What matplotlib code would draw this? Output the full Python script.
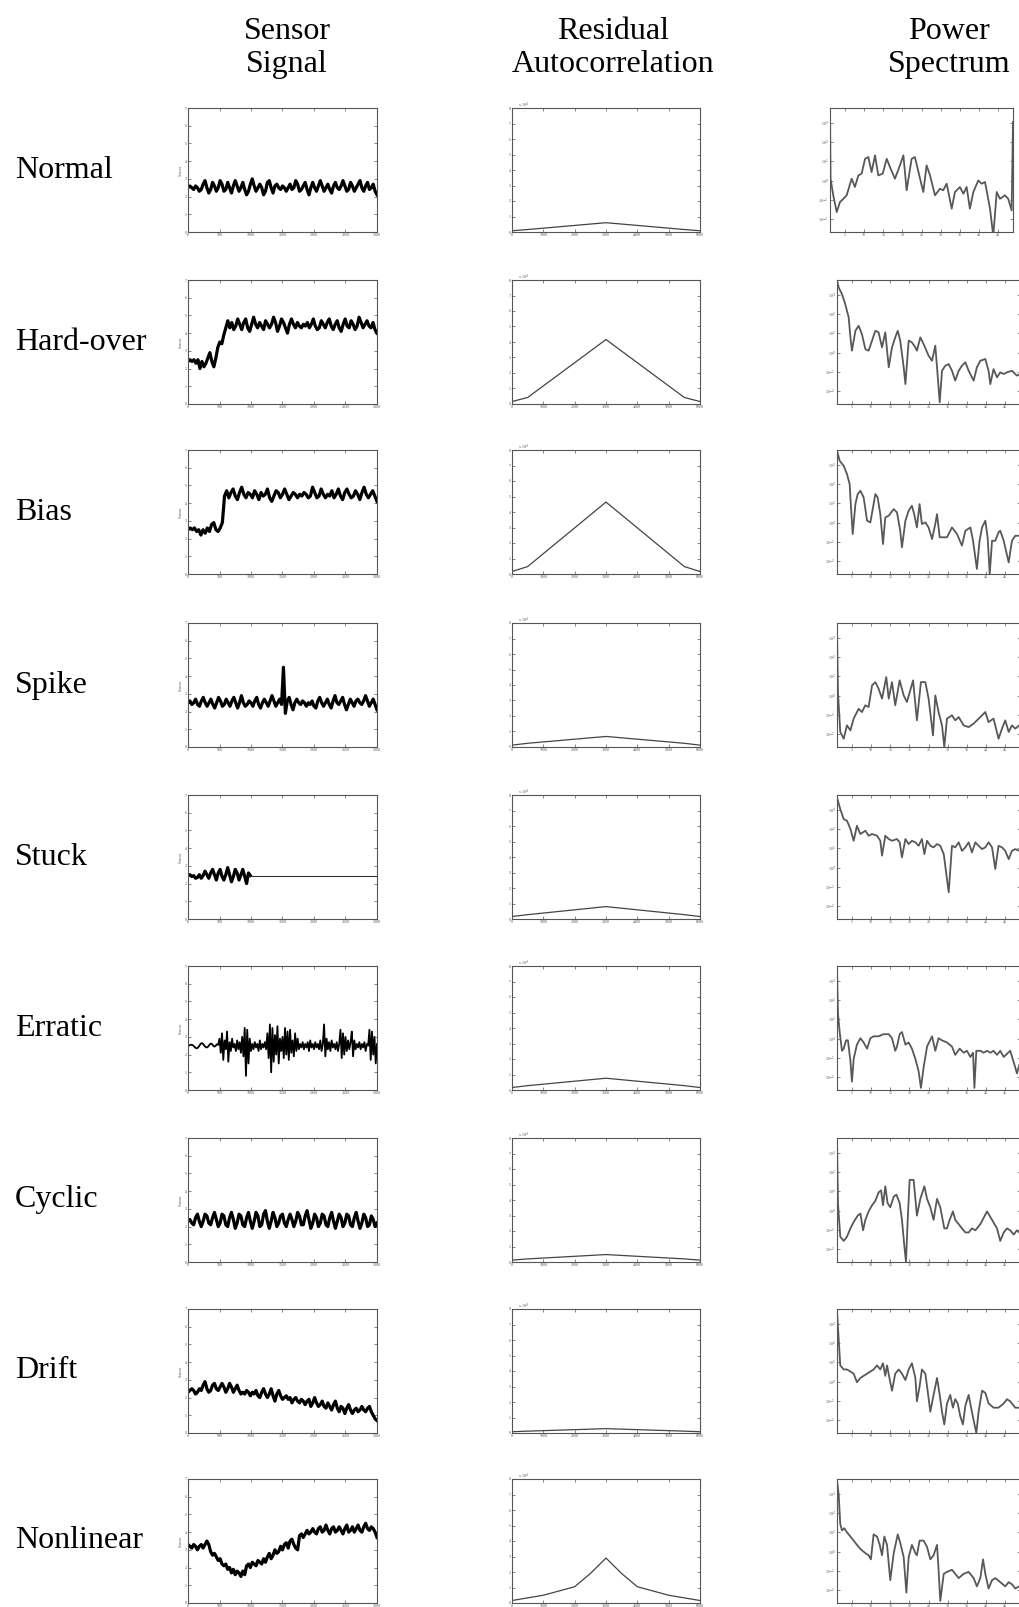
import numpy as np
import matplotlib
matplotlib.use('Agg')
import matplotlib.pyplot as plt

plt.rcParams['font.family'] = ['Liberation Serif', 'DejaVu Serif']

faults = ['Normal', 'Hard-over', 'Bias', 'Spike', 'Stuck', 'Erratic', 'Cyclic', 'Drift', 'Nonlinear']
headers = ['Sensor\nSignal', 'Residual\nAutocorrelation', 'Power\nSpectrum']

# ---- sensor signals, samples 0..3000 (evenly spaced) ----
sig_normal = [2.5, 2.6, 2.5, 2.4, 2.6, 2.5, 2.3, 2.4, 2.7, 2.9, 2.5, 2.2, 2.4, 2.8, 2.6, 2.3, 2.5, 2.9, 2.7, 2.3,
              2.4, 2.8, 2.5, 2.2, 2.6, 2.9, 2.6, 2.3, 2.5, 2.8, 2.4, 2.1, 2.3, 2.7, 3.0, 2.6, 2.3, 2.5, 2.7, 2.5,
              2.1, 2.3, 2.8, 2.9, 2.5, 2.2, 2.6, 2.7, 2.5, 2.4, 2.6, 2.5, 2.3, 2.5, 2.7, 2.4, 2.5, 2.9, 2.7, 2.3,
              2.4, 2.6, 2.8, 2.4, 2.1, 2.5, 2.8, 2.5, 2.3, 2.6, 2.9, 2.6, 2.3, 2.5, 2.7, 2.4, 2.2, 2.6, 2.8, 2.5,
              2.4, 2.6, 2.9, 2.6, 2.3, 2.4, 2.8, 2.6, 2.3, 2.5, 2.7, 2.9, 2.5, 2.3, 2.6, 2.8, 2.4, 2.5, 2.7, 2.3, 2.1]
sig_hardover = [2.4, 2.5, 2.4, 2.5, 2.3, 2.5, 2.0, 2.4, 2.1, 2.3, 2.6, 2.9, 2.4, 2.1,
                2.6, 3.2, 3.5, 3.4, 3.9, 4.3, 4.7,
                4.3, 4.6, 4.2, 4.4, 4.8, 4.5, 4.2, 4.6, 4.8, 4.3, 4.1, 4.5, 4.9, 4.5, 4.3, 4.6, 4.4, 4.2, 4.7, 4.5,
                4.3, 4.5, 4.9, 4.6, 4.1, 4.4, 4.8, 4.6, 4.3, 4.0, 4.5, 4.8, 4.5, 4.3, 4.6, 4.4, 4.3, 4.5, 4.4, 4.6,
                4.3, 4.5, 4.8, 4.4, 4.2, 4.3, 4.7, 4.5, 4.3, 4.6, 4.8, 4.4, 4.2, 4.5, 4.7, 4.3, 4.1, 4.5, 4.8, 4.4,
                4.3, 4.7, 4.5, 4.2, 4.4, 4.9, 4.6, 4.3, 4.5, 4.7, 4.4, 4.3, 4.6, 4.2, 4.0]
sig_bias = [2.5, 2.6, 2.5, 2.6, 2.4, 2.5, 2.2, 2.5, 2.3, 2.6, 2.4, 2.8, 2.9, 2.5, 2.4, 2.6, 2.9,
            4.4, 4.7, 4.3, 4.6, 4.8, 4.4, 4.2, 4.6, 4.9, 4.5, 4.3, 4.6, 4.5, 4.3, 4.7, 4.5, 4.2, 4.6, 4.4,
            4.5, 4.8, 4.3, 4.1, 4.4, 4.7, 4.6, 4.3, 4.5, 4.8, 4.5, 4.2, 4.4, 4.6, 4.5, 4.3, 4.5, 4.4, 4.6,
            4.5, 4.3, 4.4, 4.9, 4.6, 4.3, 4.4, 4.8, 4.5, 4.3, 4.5, 4.4, 4.7, 4.3, 4.5, 4.8, 4.4, 4.2, 4.6,
            4.8, 4.5, 4.3, 4.4, 4.7, 4.5, 4.2, 4.6, 4.9, 4.5, 4.3, 4.5, 4.7, 4.4, 4.1]
sig_spike = [2.5, 2.6, 2.4, 2.5, 2.7, 2.4, 2.3, 2.6, 2.8, 2.5, 2.3, 2.5, 2.7, 2.4, 2.2, 2.5, 2.8, 2.6, 2.3, 2.4,
             2.7, 2.5, 2.3, 2.6, 2.8, 2.5, 2.2, 2.5, 2.9, 2.5, 2.3, 2.4, 2.6, 2.5, 2.3, 2.6, 2.8, 2.4, 2.2, 2.5,
             2.7, 2.5, 2.3, 2.6, 2.9, 2.6, 2.3, 2.5, 2.7, 2.4, 4.5, 1.9, 2.6, 2.8, 2.4, 2.1, 2.5, 2.7, 2.5, 2.4,
             2.6, 2.5, 2.3, 2.5, 2.4, 2.6, 2.3, 2.2, 2.6, 2.8, 2.5, 2.3, 2.5, 2.7, 2.4, 2.2, 2.6, 2.9, 2.5, 2.4,
             2.6, 2.8, 2.4, 2.1, 2.4, 2.7, 2.5, 2.3, 2.6, 2.7, 2.5, 2.4, 2.6, 2.9, 2.6, 2.3, 2.5, 2.7, 2.4, 2.1]
sig_stuck = [2.45, 2.5, 2.4, 2.45, 2.3, 2.35, 2.5, 2.3, 2.45, 2.7, 2.5, 2.3, 2.6, 2.8, 2.5, 2.2, 2.6,
             2.8, 2.4, 2.2, 2.5, 2.9, 2.5, 2.1, 2.4, 2.8, 2.6, 2.2, 2.5, 2.8, 2.4, 2.0, 2.6, 2.45]
stuck_from = 990
sig_erratic = [2.5, 2.52, 2.55, 2.55, 2.52, 2.45, 2.38, 2.35, 2.4, 2.5, 2.6, 2.65, 2.6, 2.5, 2.42, 2.4,
               2.45, 2.55, 2.62, 2.6, 2.5, 2.45, 2.5, 2.58, 2.55,
               2.9, 2.1, 3.2, 1.7, 2.8, 2.3, 3.3, 1.6, 2.7, 2.2, 2.9,
               2.4, 2.6, 2.2, 2.8, 2.3, 2.7, 2.1, 3.0,
               1.9, 3.5, 0.8, 3.4, 1.5, 2.9, 2.2,
               2.6, 2.3, 2.7, 2.4, 2.6, 2.2, 2.8, 2.3, 2.6, 2.4, 2.7, 2.3,
               3.2, 1.8, 3.7, 1.0, 3.5, 1.6, 3.1, 2.0, 3.6, 1.5, 2.9,
               2.2, 3.0, 1.8, 3.5, 2.0, 3.3, 1.7, 3.4, 2.1, 2.8, 1.9, 3.2, 2.2, 2.9, 2.3,
               2.6, 2.4, 2.7, 2.3, 2.6, 2.4, 2.7, 2.2, 2.8, 2.4, 2.6, 2.3, 2.7, 2.4, 2.6, 2.3, 2.8, 2.2, 2.6,
               3.7, 1.9, 2.9,
               2.3, 2.7, 2.2, 2.8, 2.4, 2.6, 2.3, 2.7, 2.2, 2.6,
               3.4, 1.8, 3.2, 2.0, 3.0, 2.2, 2.8,
               2.3, 2.7, 3.3, 1.9, 2.8, 2.3, 2.6, 2.4, 2.7, 2.3, 2.6, 2.4, 2.7, 2.2, 2.6, 2.5,
               3.4, 1.7, 3.3, 2.0, 3.0, 1.5, 2.6]
sig_cyclic = [2.3, 2.4, 2.2, 2.1, 2.5, 2.7, 2.3, 2.0, 2.3, 2.7, 2.6, 2.2, 2.1, 2.5, 2.8, 2.4, 2.0, 2.2, 2.7, 2.6,
              2.1, 2.0, 2.5, 2.8, 2.4, 1.9, 2.2, 2.7, 2.6, 2.1, 2.0, 2.5, 2.8, 2.3, 1.9, 2.3, 2.8, 2.6, 2.0, 2.1,
              2.7, 2.9, 2.3, 1.9, 2.3, 2.8, 2.5, 2.0, 2.2, 2.6, 2.7, 2.2, 2.0, 2.4, 2.7, 2.4, 2.0, 2.3, 2.8, 2.6,
              2.1, 2.1, 2.6, 2.9, 2.4, 1.9, 2.2, 2.7, 2.5, 2.0, 2.2, 2.7, 2.6, 2.1, 2.0, 2.5, 2.8, 2.3, 1.9, 2.3,
              2.7, 2.5, 2.0, 2.2, 2.7, 2.6, 2.1, 2.0, 2.5, 2.8, 2.3, 1.9, 2.2, 2.7, 2.5, 2.0, 2.1, 2.6, 2.4, 2.0, 2.2]
sig_drift = [2.3, 2.4, 2.5, 2.4, 2.2, 2.3, 2.5, 2.4, 2.7, 2.9, 2.5, 2.3, 2.4, 2.7, 2.8, 2.5, 2.4, 2.6, 2.8, 2.6,
             2.3, 2.5, 2.8, 2.6,
             2.3, 2.5, 2.7, 2.4, 2.2, 2.3, 2.2, 2.4, 2.3, 2.1, 2.3, 2.2, 2.4, 2.1, 2.0, 2.3, 2.5, 2.2, 2.0, 2.2,
             2.5, 2.1, 1.8, 2.2,
             2.4, 2.1, 1.9, 2.0, 2.1, 1.9, 2.0, 1.7, 1.9, 2.0, 1.8, 1.7, 1.9, 1.8, 1.6, 1.8, 1.9, 1.5, 1.7, 2.0,
             1.7, 1.5, 1.6, 1.8,
             1.5, 1.4, 1.7, 1.5, 1.3, 1.6, 1.8, 1.4, 1.2, 1.5, 1.4, 1.1, 1.4, 1.6, 1.3, 1.1, 1.3, 1.4, 1.2, 1.3,
             1.5, 1.3, 1.2, 1.4,
             1.5, 1.2, 1.0, 0.8, 0.7]
sig_nonlinear = [3.3, 3.2, 3.1, 3.3, 3.2, 3.0, 3.2, 3.3, 3.1, 3.3,
                 3.5, 3.3, 2.9, 2.7, 2.8, 2.6, 2.4, 2.5, 2.2, 2.1,
                 2.2, 1.9, 2.0, 1.7, 1.9, 1.6, 1.8, 1.7, 1.5, 1.8,
                 1.6, 2.1, 2.2, 2.0, 2.3, 2.2, 2.1, 2.4, 2.3, 2.2,
                 2.5, 2.3, 2.6, 2.8, 2.5, 2.7, 3.0, 2.8, 2.9, 3.2,
                 3.0, 3.3, 3.4, 3.1, 3.5, 3.6, 3.3, 3.1, 3.0, 3.8,
                 3.9, 3.7, 3.9, 4.1, 3.9, 4.0, 4.2, 4.0, 3.9, 4.2,
                 4.3, 4.0, 4.1, 4.4, 4.1, 3.9, 4.2, 4.3, 4.0, 4.1,
                 4.3, 4.1, 3.9, 4.2, 4.4, 4.0, 4.1, 4.3, 4.0, 4.2,
                 4.4, 4.1, 4.0, 4.3, 4.5, 4.2, 4.1, 4.3, 4.2, 4.0, 3.7]

# ---- residual autocorrelation, (lag, value) ----
acf_normal = [(0, 0.08), (500, 0.16), (3000, 0.6), (5500, 0.16), (6000, 0.08)]
acf_hardover = [(0, 0.16), (500, 0.42), (3000, 4.16), (5500, 0.42), (6000, 0.16)]
acf_bias = [(0, 0.16), (500, 0.48), (3000, 4.64), (5500, 0.48), (6000, 0.16)]
acf_spike = [(0, 0.12), (500, 0.24), (3000, 0.68), (5500, 0.24), (6000, 0.12)]
acf_stuck = [(0, 0.16), (500, 0.28), (3000, 0.8), (5500, 0.28), (6000, 0.16)]
acf_erratic = [(0, 0.16), (500, 0.28), (3000, 0.76), (5500, 0.28), (6000, 0.16)]
acf_cyclic = [(0, 0.12), (500, 0.2), (3000, 0.48), (5500, 0.2), (6000, 0.12)]
acf_drift = [(0, 0.08), (500, 0.12), (3000, 0.28), (5500, 0.12), (6000, 0.08)]
acf_nonlinear = [(0, 0.16), (1000, 0.5), (2000, 1.05), (2500, 1.9), (3000, 2.9), (3500, 1.9),
                 (4000, 1.05), (5000, 0.5), (6000, 0.16)]

# ---- power spectrum, (frequency, log10 power) ----
psd_normal = [(0.00, 6.29), (0.03, 2.76), (0.17, 1.90), (0.35, 1.03), (0.52, 1.55), (0.70, 1.72), (0.87, 1.90),
              (1.13, 2.76), (1.30, 2.33), (1.48, 2.93), (1.65, 3.02), (1.83, 3.79), (2.00, 3.88), (2.17, 3.10),
              (2.35, 3.97), (2.52, 2.93), (2.75, 3.02), (2.96, 3.79), (3.13, 3.36), (3.39, 2.76), (3.65, 3.45),
              (3.83, 3.97), (4.00, 2.16), (4.26, 3.79), (4.43, 3.88), (4.70, 2.76), (4.87, 2.07), (5.04, 3.45),
              (5.22, 2.93), (5.48, 1.90), (5.74, 2.24), (5.91, 2.16), (6.09, 2.50), (6.35, 1.21), (6.52, 2.07),
              (6.78, 2.33), (6.96, 1.98), (7.13, 2.33), (7.30, 1.21), (7.48, 2.07), (7.74, 2.67), (7.91, 2.50),
              (8.09, 2.59), (8.35, 1.21), (8.52, -0.2), (8.70, 2.07), (8.87, 1.72), (9.13, 1.90), (9.30, 1.72),
              (9.48, 1.12), (9.55, 5.69)]
psd_hardover = [(0.00, 6.38), (0.09, 6.03), (0.26, 5.69), (0.43, 5.17), (0.61, 4.48), (0.70, 3.45), (0.78, 2.76),
                (0.96, 3.79), (1.13, 4.05), (1.30, 3.62), (1.48, 2.84), (1.65, 2.76), (1.83, 3.28), (2.00, 3.79),
                (2.17, 3.71), (2.35, 2.93), (2.52, 3.71), (2.70, 1.90), (2.87, 2.93), (3.04, 3.45), (3.17, 3.79),
                (3.30, 3.28), (3.48, 1.90), (3.57, 1.03), (3.74, 3.28), (3.91, 3.19), (4.09, 2.93), (4.17, 2.76),
                (4.35, 3.45), (4.52, 3.10), (4.78, 2.50), (4.96, 2.24), (5.13, 3.02), (5.22, 1.90), (5.36, 0.09),
                (5.48, 1.72), (5.65, 1.98), (5.83, 2.07), (6.00, 1.72), (6.17, 1.21), (6.35, 1.72), (6.52, 1.98),
                (6.70, 2.16), (6.87, 1.72), (7.13, 1.21), (7.30, 1.90), (7.48, 2.24), (7.74, 2.33), (7.91, 1.72),
                (8.00, 1.03), (8.17, 1.81), (8.35, 1.38), (8.52, 1.64), (8.70, 1.55), (8.87, 1.64), (9.13, 1.72),
                (9.39, 1.47), (9.57, 1.55)]
psd_bias = [(0.00, 6.38), (0.14, 5.86), (0.35, 5.60), (0.52, 5.17), (0.66, 4.66), (0.73, 3.45), (0.82, 2.07),
            (0.96, 3.62), (1.08, 4.14), (1.22, 4.31), (1.39, 3.97), (1.57, 2.76), (1.74, 2.67), (1.88, 3.45),
            (2.00, 4.14), (2.12, 3.97), (2.26, 3.10), (2.40, 1.55), (2.52, 2.93), (2.70, 3.02), (2.96, 3.36),
            (3.13, 3.19), (3.30, 2.24), (3.39, 1.38), (3.57, 2.76), (3.74, 3.28), (3.91, 3.53), (4.03, 3.10),
            (4.17, 2.41), (4.31, 3.62), (4.43, 2.59), (4.61, 2.67), (4.78, 2.41), (4.96, 1.81), (5.13, 2.59),
            (5.22, 3.10), (5.36, 1.90), (5.48, 1.90), (5.74, 1.90), (6.00, 2.41), (6.26, 2.07), (6.52, 1.47),
            (6.70, 2.24), (6.96, 2.41), (7.10, 1.72), (7.30, 0.26), (7.44, 1.72), (7.57, 2.41), (7.74, 2.76),
            (7.86, 1.90), (7.97, 0.00), (8.09, 1.72), (8.26, 1.72), (8.43, 2.16), (8.52, 2.24), (8.70, 1.72),
            (8.96, 0.60), (9.13, 1.72), (9.30, 1.98), (9.51, 1.98)]
psd_spike = [(0.00, 6.12), (0.05, 2.84), (0.17, 0.78), (0.35, 0.43), (0.52, 1.12), (0.70, 0.86), (0.87, 1.47),
             (1.13, 1.98), (1.30, 1.81), (1.48, 2.16), (1.65, 2.07), (1.83, 3.19), (2.00, 3.36), (2.17, 3.02),
             (2.35, 2.50), (2.57, 3.62), (2.70, 2.50), (2.87, 3.36), (3.04, 2.16), (3.27, 3.45), (3.48, 2.67),
             (3.65, 2.33), (3.97, 3.45), (4.17, 1.38), (4.38, 3.36), (4.61, 3.36), (4.78, 2.50), (5.01, 0.60),
             (5.13, 2.67), (5.30, 1.81), (5.48, 1.12), (5.60, 0.00), (5.74, 1.47), (6.00, 1.64), (6.17, 1.38),
             (6.35, 1.55), (6.61, 1.12), (6.87, 1.03), (7.13, 1.21), (7.48, 1.55), (7.74, 1.81), (7.91, 1.29),
             (8.17, 1.47), (8.43, 0.43), (8.61, 0.95), (8.78, 1.38), (8.96, 0.78), (9.13, 1.12), (9.30, 0.95),
             (9.51, 1.12)]
psd_stuck = [(0.00, 6.29), (0.17, 5.69), (0.35, 5.17), (0.52, 5.09), (0.70, 4.66), (0.87, 4.05), (1.04, 4.83),
             (1.22, 4.40), (1.48, 4.57), (1.65, 4.31), (1.83, 4.40), (2.09, 4.31), (2.26, 4.05), (2.35, 3.28),
             (2.52, 4.31), (2.70, 4.14), (2.87, 4.05), (3.13, 4.14), (3.27, 3.97), (3.39, 3.19), (3.57, 4.14),
             (3.74, 3.88), (3.91, 4.05), (4.09, 3.97), (4.26, 3.79), (4.43, 4.14), (4.56, 3.36), (4.70, 4.05),
             (4.87, 3.79), (5.04, 3.71), (5.22, 3.88), (5.39, 3.79), (5.57, 3.36), (5.83, 1.38), (6.00, 3.79),
             (6.17, 3.71), (6.35, 3.97), (6.52, 3.53), (6.70, 3.71), (6.87, 3.97), (7.04, 3.45), (7.22, 3.97),
             (7.39, 3.79), (7.57, 3.62), (7.74, 3.71), (7.91, 3.97), (8.09, 3.71), (8.26, 2.59), (8.43, 3.79),
             (8.61, 3.71), (8.78, 3.53), (8.96, 3.10), (9.13, 3.53), (9.30, 3.62), (9.51, 3.53)]
psd_erratic = [(0.00, 6.31), (0.05, 3.96), (0.14, 3.00), (0.26, 2.03), (0.35, 2.14), (0.47, 2.57), (0.57, 2.57),
               (0.70, 1.50), (0.78, 0.43), (0.87, 1.61), (1.04, 2.35), (1.22, 2.68), (1.39, 2.46), (1.57, 2.14),
               (1.74, 2.68), (1.91, 2.78), (2.17, 2.78), (2.43, 2.89), (2.70, 2.89), (2.87, 2.68), (3.04, 2.03),
               (3.13, 2.25), (3.27, 2.89), (3.39, 3.00), (3.57, 2.35), (3.74, 2.46), (3.91, 2.14), (4.09, 1.61),
               (4.26, 0.96), (4.38, 0.11), (4.52, 1.18), (4.70, 2.25), (4.96, 2.78), (5.13, 2.03), (5.30, 2.68),
               (5.48, 2.57), (5.74, 2.46), (6.00, 2.25), (6.17, 1.82), (6.40, 2.14), (6.61, 1.93), (6.78, 2.03),
               (6.96, 1.71), (7.10, 1.93), (7.17, 0.11), (7.27, 2.03), (7.48, 2.03), (7.65, 1.93), (7.83, 2.03),
               (8.00, 1.93), (8.17, 2.03), (8.35, 1.82), (8.52, 2.03), (8.70, 1.71), (9.04, 2.03), (9.30, 1.18),
               (9.39, 0.86), (9.51, 1.28)]
psd_cyclic = [(0.00, 6.32), (0.05, 3.05), (0.17, 1.31), (0.35, 1.09), (0.52, 1.31), (0.70, 1.74), (0.87, 2.07),
              (1.08, 2.40), (1.22, 2.51), (1.36, 1.64), (1.48, 2.18), (1.65, 2.62), (1.83, 2.94), (2.00, 3.16),
              (2.17, 3.60), (2.30, 3.71), (2.40, 2.94), (2.52, 3.92), (2.64, 3.05), (2.78, 2.83), (2.96, 3.38),
              (3.10, 3.49), (3.27, 3.05), (3.39, 2.18), (3.51, 0.87), (3.60, 0.00), (3.69, 2.18), (3.79, 4.25),
              (4.00, 4.25), (4.17, 2.40), (4.35, 3.27), (4.56, 3.92), (4.70, 3.27), (4.87, 2.83), (5.04, 2.18),
              (5.22, 3.27), (5.39, 2.83), (5.60, 1.74), (5.74, 1.74), (5.88, 2.18), (6.05, 2.62), (6.17, 2.18),
              (6.35, 1.96), (6.52, 1.74), (6.70, 1.53), (6.87, 1.53), (7.04, 1.74), (7.22, 1.64), (7.48, 1.96),
              (7.83, 2.62), (8.09, 2.18), (8.35, 1.74), (8.52, 1.09), (8.70, 1.53), (8.87, 1.74), (9.04, 1.64),
              (9.22, 1.42), (9.39, 1.64), (9.51, 1.53)]
psd_drift = [(0.00, 6.35), (0.05, 5.48), (0.17, 3.50), (0.35, 3.29), (0.52, 3.29), (0.70, 3.18), (0.87, 3.07),
             (1.04, 2.63), (1.22, 2.85), (1.39, 2.96), (1.57, 3.07), (1.74, 3.18), (1.91, 3.29), (2.09, 3.50),
             (2.26, 3.29), (2.40, 3.61), (2.52, 2.96), (2.61, 3.50), (2.78, 2.63), (2.87, 2.19), (3.04, 3.07),
             (3.22, 3.29), (3.39, 3.07), (3.57, 2.74), (3.74, 3.29), (3.91, 3.61), (4.09, 2.85), (4.17, 1.64),
             (4.31, 2.41), (4.43, 3.29), (4.61, 3.07), (4.73, 2.19), (4.87, 1.10), (5.04, 1.97), (5.22, 2.85),
             (5.36, 1.97), (5.48, 1.10), (5.60, 0.44), (5.74, 1.53), (5.91, 1.97), (6.05, 1.31), (6.17, 1.75),
             (6.30, 1.53), (6.43, 0.88), (6.57, 0.44), (6.70, 1.42), (6.87, 1.97), (7.04, 1.10), (7.13, 0.66),
             (7.27, 0.00), (7.39, 1.10), (7.57, 2.19), (7.74, 2.08), (7.91, 1.53), (8.17, 1.31), (8.43, 1.31),
             (8.70, 1.53), (8.87, 1.75), (9.04, 1.64), (9.30, 1.31), (9.51, 1.31)]
psd_nonlinear = [(0.00, 6.34), (0.09, 5.59), (0.17, 4.09), (0.26, 3.76), (0.38, 3.87), (0.52, 3.66), (0.70, 3.44),
                 (0.87, 3.23), (1.04, 3.01), (1.22, 2.80), (1.48, 2.58), (1.65, 2.47), (1.77, 2.26), (1.91, 3.55),
                 (2.09, 3.44), (2.23, 3.01), (2.35, 2.47), (2.47, 3.44), (2.61, 3.01), (2.78, 1.18), (2.96, 2.58),
                 (3.17, 3.55), (3.30, 3.12), (3.48, 2.37), (3.62, 0.54), (3.74, 2.37), (3.91, 3.01), (4.09, 2.58),
                 (4.17, 2.47), (4.31, 3.23), (4.52, 3.23), (4.70, 2.90), (4.87, 2.26), (5.04, 2.47), (5.22, 3.01),
                 (5.30, 1.72), (5.39, 0.11), (5.57, 1.51), (5.74, 1.61), (6.00, 1.72), (6.17, 1.51), (6.35, 1.29),
                 (6.61, 1.51), (6.87, 1.61), (7.13, 1.29), (7.30, 0.86), (7.48, 1.29), (7.62, 2.26), (7.74, 1.51),
                 (7.91, 0.75), (8.09, 1.18), (8.26, 1.29), (8.52, 1.08), (8.78, 0.86), (8.96, 1.08), (9.13, 0.97),
                 (9.30, 0.75), (9.51, 0.86)]

signals = [sig_normal, sig_hardover, sig_bias, sig_spike, sig_stuck, sig_erratic, sig_cyclic, sig_drift, sig_nonlinear]
acfs = [acf_normal, acf_hardover, acf_bias, acf_spike, acf_stuck, acf_erratic, acf_cyclic, acf_drift, acf_nonlinear]
psds = [psd_normal, psd_hardover, psd_bias, psd_spike, psd_stuck, psd_erratic, psd_cyclic, psd_drift, psd_nonlinear]

W, H = 1019, 1607
fig = plt.figure(figsize=(W / 100, H / 100), dpi=100)
fig.patch.set_facecolor('white')

row_top = [108, 280, 450, 623, 795, 966, 1138, 1309, 1479]
row_h = 124


def make_ax(left, top, w, h):
    ax = fig.add_axes([left / W, 1 - (top + h) / H, w / W, h / H])
    ax.tick_params(direction='in', length=2, width=0.5, top=True, right=True,
                   labelsize=3, pad=1, colors='#555555')
    for s in ax.spines.values():
        s.set_linewidth(0.8)
        s.set_color('#555555')
    return ax


for i, name in enumerate(faults):
    top = row_top[i]

    # sensor signal
    ax = make_ax(188, top, 189, row_h)
    y = np.array(signals[i])
    if name == 'Stuck':
        x = np.append(np.linspace(0, stuck_from, len(y)), 3000)
        y = np.append(y, y[-1])
        ax.plot(x[:-1], y[:-1], color='black', lw=2.3)
        ax.plot(x[-2:], y[-2:], color='#333333', lw=0.8)
    else:
        x = np.linspace(0, 3000, len(y))
        ax.plot(x, y, color='black', lw=2.3 if name != 'Erratic' else 1.3)
    ax.set_xlim(0, 3000)
    ax.set_ylim(0, 7)
    ax.set_xticks(np.arange(0, 3001, 500))
    ax.set_yticks(np.arange(0, 8, 1))
    ax.set_ylabel('Sensor', fontsize=3, labelpad=1, color='#555555')

    # residual autocorrelation
    ax = make_ax(512, top, 188, row_h)
    a = np.array(acfs[i])
    ax.plot(a[:, 0], a[:, 1], color='#444444', lw=0.9)
    ax.set_xlim(0, 6000)
    ax.set_ylim(0, 8)
    ax.set_xticks(np.arange(0, 6001, 1000))
    ax.set_yticks(np.arange(0, 9, 1))
    ax.text(0.03, 1.01, r'x 10$^{4}$', transform=ax.transAxes, fontsize=3, color='#555555')

    # power spectrum
    left = 830 if i == 0 else 837
    ax = make_ax(left, top, 183, row_h)
    p = np.array(psds[i])
    ax.plot(p[:, 0], p[:, 1], color='#585858', lw=1.3)
    ax.set_xlim(0, 9.55)
    ax.set_ylim(0, 6.42)
    ax.set_xticks(0.78 + np.arange(9))
    ax.set_xticklabels([str(k) for k in range(5, 50, 5)])
    ax.set_yticks(0.66 + np.arange(6))
    ax.set_yticklabels([r'10$^{%d}$' % k for k in range(-2, 4)])

    # row label
    fig.text(15 / W, 1 - (top + row_h / 2) / H, name, fontsize=23, va='center', ha='left')

# column headers
for cx, txt in zip([287, 613, 949], headers):
    fig.text(cx / W, 1 - 48 / H, txt, fontsize=23, ha='center', va='center', linespacing=1.2)

fig.savefig('out.png', dpi=100, facecolor='white')
